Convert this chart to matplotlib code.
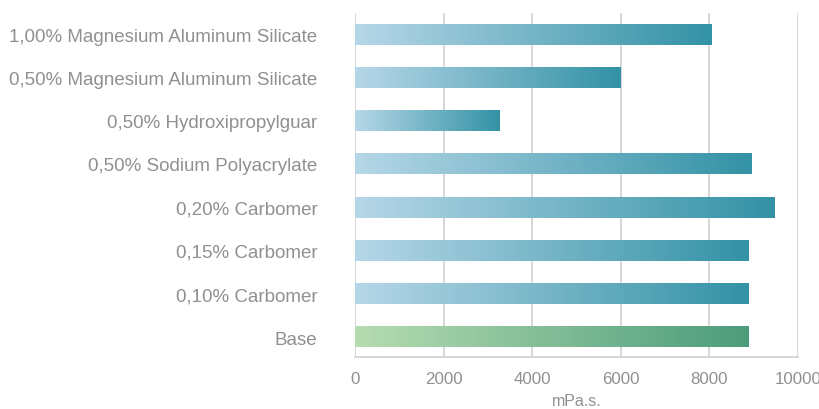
import numpy as np
import matplotlib
matplotlib.use('Agg')
import matplotlib.pyplot as plt
from matplotlib.colors import LinearSegmentedColormap

# data (top to bottom in the chart)
categories = ["1,00% Magnesium Aluminum Silicate",
              "0,50% Magnesium Aluminum Silicate",
              "0,50% Hydroxipropylguar",
              "0,50% Sodium Polyacrylate",
              "0,20% Carbomer",
              "0,15% Carbomer",
              "0,10% Carbomer",
              "Base"]
values = [8050, 6000, 3270, 8950, 9480, 8880, 8880, 8880]
xticks = [0, 2000, 4000, 6000, 8000, 10000]

plt.rcParams['font.family'] = ['Liberation Sans', 'DejaVu Sans']

blue = LinearSegmentedColormap.from_list("blue", ["#b6d7e8", "#3392a5"])
green = LinearSegmentedColormap.from_list("green", ["#b6dcb1", "#4c9c7c"])

fig = plt.figure(figsize=(8.19, 4.10), dpi=100)
ax = fig.add_axes([0.4335, 0.127, 0.5409, 0.840])

n = len(categories)
ypos = np.arange(n)[::-1]
h = 0.48
grad = np.linspace(0, 1, 256).reshape(1, -1)
for y, v, c in zip(ypos, values, categories):
    cmap = green if c == "Base" else blue
    ax.imshow(grad, cmap=cmap, aspect='auto', extent=[0, v, y - h / 2, y + h / 2],
              zorder=3, interpolation='bicubic')

ax.set_xlim(0, 10000)
ax.set_ylim(-0.46, n - 0.5)
ax.set_yticks(ypos)
ax.set_yticklabels(categories, fontsize=13.5, color='#909090')
ax.set_xticks(xticks)
ax.set_xticklabels([str(t) for t in xticks], fontsize=12.2, color='#909090')
ax.tick_params(axis='both', length=0)
ax.tick_params(axis='y', pad=27)
ax.tick_params(axis='x', pad=10)
ax.set_xlabel("mPa.s.", fontsize=11.5, color='#909090', labelpad=5)

ax.grid(axis='x', color='#d4d4d4', linewidth=1.3, zorder=0)
for s in ['top', 'left', 'right']:
    ax.spines[s].set_visible(False)
ax.spines['bottom'].set_color('#d4d4d4')
ax.spines['bottom'].set_linewidth(1.3)

fig.savefig("out.png", dpi=100)
